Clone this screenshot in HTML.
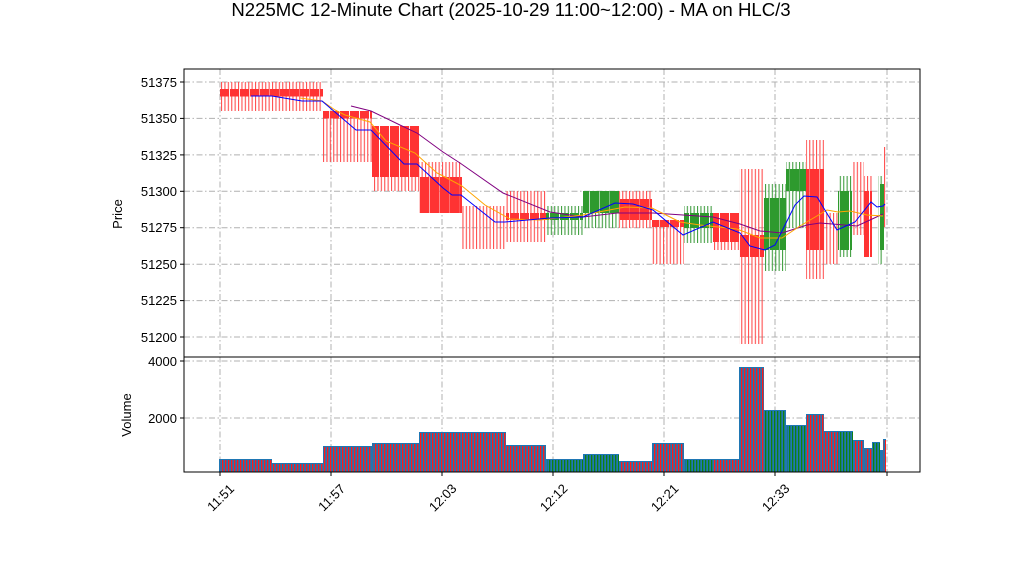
<!DOCTYPE html>
<html><head><meta charset="utf-8"><style>
body{margin:0;background:#fff}
svg text{font-family:"Liberation Sans","DejaVu Sans",sans-serif;fill:#000}
</style></head><body>
<svg width="1022" height="575" viewBox="0 0 1022 575" xmlns="http://www.w3.org/2000/svg">
<defs>
<pattern id="wr" width="3.4" height="10" patternUnits="userSpaceOnUse"><rect x="0" y="0" width="1.1" height="10" fill="#ff5050"/></pattern>
<pattern id="wg" width="3.4" height="10" patternUnits="userSpaceOnUse"><rect x="0" y="0" width="1.1" height="10" fill="#44a044"/></pattern>
<pattern id="br" width="10" height="10" patternUnits="userSpaceOnUse"><rect x="0" y="0" width="9" height="10" fill="#ff3333"/></pattern>
<pattern id="bg" width="10" height="10" patternUnits="userSpaceOnUse"><rect x="0" y="0" width="9" height="10" fill="#2e9a2e"/></pattern>
<pattern id="vr" width="3" height="10" patternUnits="userSpaceOnUse"><rect x="0" y="0" width="1.3" height="10" fill="#ff1a1a"/></pattern>
<pattern id="vg" width="3" height="10" patternUnits="userSpaceOnUse"><rect x="0" y="0" width="1.3" height="10" fill="#108010"/></pattern>
</defs>
<rect width="1022" height="575" fill="#fff"/>
<text x="511" y="16" font-size="18.6" text-anchor="middle">N225MC 12-Minute Chart (2025-10-29 11:00~12:00) - MA on HLC/3</text>

<g stroke="#b0b0b0" stroke-width="1" stroke-dasharray="6,2.5,1.5,2.5" fill="none">
<line x1="184" x2="920" y1="82" y2="82"/><line x1="184" x2="920" y1="118.4" y2="118.4"/>
<line x1="184" x2="920" y1="154.9" y2="154.9"/><line x1="184" x2="920" y1="191.3" y2="191.3"/>
<line x1="184" x2="920" y1="227.7" y2="227.7"/><line x1="184" x2="920" y1="264.2" y2="264.2"/>
<line x1="184" x2="920" y1="300.6" y2="300.6"/><line x1="184" x2="920" y1="337" y2="337"/>
<line x1="184" x2="920" y1="361" y2="361"/><line x1="184" x2="920" y1="418" y2="418"/>
<line x1="220" x2="220" y1="69" y2="472"/><line x1="331" x2="331" y1="69" y2="472"/>
<line x1="442" x2="442" y1="69" y2="472"/><line x1="553" x2="553" y1="69" y2="472"/>
<line x1="664" x2="664" y1="69" y2="472"/><line x1="775" x2="775" y1="69" y2="472"/>
<line x1="887" x2="887" y1="69" y2="472"/>
</g>

<g>
<rect x="219" y="82" width="104" height="29" fill="url(#wr)"/>
<rect x="323" y="111" width="49" height="51" fill="url(#wr)"/>
<rect x="372" y="126" width="47" height="65" fill="url(#wr)"/>
<rect x="419" y="162" width="43" height="51" fill="url(#wr)"/>
<rect x="462" y="206" width="44" height="43" fill="url(#wr)"/>
<rect x="506" y="191" width="40" height="51" fill="url(#wr)"/>
<rect x="546" y="206" width="37" height="29" fill="url(#wg)"/>
<rect x="583" y="191" width="36" height="37" fill="url(#wg)"/>
<rect x="619" y="191" width="33" height="37" fill="url(#wr)"/>
<rect x="652" y="220" width="32" height="44" fill="url(#wr)"/>
<rect x="684" y="206" width="29" height="37" fill="url(#wg)"/>
<rect x="713" y="213" width="26" height="37" fill="url(#wr)"/>
<rect x="739" y="169" width="25" height="175" fill="url(#wr)"/>
<rect x="764" y="184" width="22" height="87" fill="url(#wg)"/>
<rect x="786" y="162" width="20" height="66" fill="url(#wg)"/>
<rect x="806" y="140" width="18" height="139" fill="url(#wr)"/>
<rect x="824" y="213" width="14" height="51" fill="url(#wr)"/>
<rect x="838" y="176" width="14" height="81" fill="url(#wg)"/>
<rect x="852" y="162" width="12" height="73" fill="url(#wr)"/>
<rect x="864" y="176" width="8" height="81" fill="url(#wr)"/>
<rect x="878" y="176" width="5" height="88" fill="url(#wg)"/>
<rect x="883" y="147" width="3" height="80" fill="url(#wr)"/>
</g>
<g>
<rect x="219" y="89" width="104" height="7.5" fill="url(#br)"/>
<rect x="323" y="111" width="49" height="7.5" fill="url(#br)"/>
<rect x="372" y="126" width="47" height="51" fill="url(#br)"/>
<rect x="419" y="177" width="43" height="36" fill="url(#br)"/>
<rect x="506" y="213" width="40" height="7" fill="url(#br)"/>
<rect x="546" y="213" width="37" height="7" fill="url(#bg)"/>
<rect x="583" y="191" width="36" height="22" fill="url(#bg)"/>
<rect x="619" y="199" width="33" height="21" fill="url(#br)"/>
<rect x="652" y="220" width="32" height="7" fill="url(#br)"/>
<rect x="684" y="213" width="29" height="15" fill="url(#bg)"/>
<rect x="713" y="213" width="26" height="29" fill="url(#br)"/>
<rect x="739" y="235" width="25" height="22" fill="url(#br)"/>
<rect x="764" y="198" width="22" height="52" fill="url(#bg)"/>
<rect x="786" y="169" width="20" height="22" fill="url(#bg)"/>
<rect x="806" y="169" width="18" height="81" fill="url(#br)"/>
<rect x="838" y="191" width="14" height="59" fill="url(#bg)"/>
<rect x="864" y="191" width="8" height="66" fill="url(#br)"/>
<rect x="880" y="184" width="4" height="66" fill="url(#bg)"/>
</g>
<polyline fill="none" stroke="#800080" stroke-width="1" points="351,106 371,111 402,126 417,133 443,152 460,163 503,193 550,212 583,217 617,213 653,213 713,217 740,224 760,231 782,233 807,225 820,223 857,226 883,214"/>
<polyline fill="none" stroke="#ffa500" stroke-width="1" points="300,98 322,101 335,110 345,115 370,122 386,141 415,153 437,173 443,176 462,186 485,205 510,219 540,220 583,215 625,207 652,208 680,222 700,225 737,229 760,238 782,238 800,226 827,210 838,212 850,211 867,215 883,216"/>
<polyline fill="none" stroke="#0000ff" stroke-width="1" points="251,96 272,96 302,101 322,101 356,130 371,130 404,164 417,164 443,188 452,195 461,195 495,222 505,222 550,218 583,217 615,203 633,204 653,210 683,235 713,222 740,233 750,246 765,250 775,245 790,215 795,205 804,196 817,197 837,230 855,222 871,202 877,207 883,206 885,204"/>

<g fill="#1f77b4">
<rect x="219" y="459" width="53" height="13"/><rect x="272" y="463" width="51" height="9"/>
<rect x="323" y="446" width="49" height="26"/><rect x="372" y="443" width="47" height="29"/>
<rect x="419" y="432" width="87" height="40"/><rect x="506" y="445" width="40" height="27"/>
<rect x="546" y="459" width="37" height="13"/><rect x="583" y="454" width="36" height="18"/>
<rect x="619" y="461" width="33" height="11"/><rect x="652" y="443" width="32" height="29"/>
<rect x="684" y="459" width="55" height="13"/><rect x="739" y="367" width="25" height="105"/>
<rect x="764" y="410" width="22" height="62"/><rect x="786" y="425" width="20" height="47"/>
<rect x="806" y="414" width="18" height="58"/><rect x="824" y="431" width="29" height="41"/>
<rect x="853" y="440" width="11" height="32"/><rect x="864" y="448" width="8" height="24"/>
<rect x="872" y="442" width="8" height="30"/><rect x="880" y="450" width="3" height="22"/>
<rect x="883" y="439" width="3" height="33"/>
</g>
<g>
<rect x="220" y="460" width="52" height="12" fill="url(#vr)"/>
<rect x="273" y="464" width="50" height="8" fill="url(#vr)"/>
<rect x="324" y="447" width="48" height="25" fill="url(#vr)"/>
<rect x="373" y="444" width="46" height="28" fill="url(#vr)"/>
<rect x="420" y="433" width="86" height="39" fill="url(#vr)"/>
<rect x="507" y="446" width="39" height="26" fill="url(#vr)"/>
<rect x="547" y="460" width="36" height="12" fill="url(#vg)"/>
<rect x="584" y="455" width="35" height="17" fill="url(#vg)"/>
<rect x="620" y="462" width="32" height="10" fill="url(#vr)"/>
<rect x="653" y="444" width="31" height="28" fill="url(#vr)"/>
<rect x="685" y="460" width="28" height="12" fill="url(#vg)"/>
<rect x="713" y="460" width="26" height="12" fill="url(#vr)"/>
<rect x="740" y="368" width="24" height="104" fill="url(#vr)"/>
<rect x="765" y="411" width="21" height="61" fill="url(#vg)"/>
<rect x="787" y="426" width="19" height="46" fill="url(#vg)"/>
<rect x="807" y="415" width="17" height="57" fill="url(#vr)"/>
<rect x="825" y="432" width="13" height="40" fill="url(#vr)"/>
<rect x="838" y="432" width="15" height="40" fill="url(#vg)"/>
<rect x="854" y="441" width="10" height="31" fill="url(#vr)"/>
<rect x="865" y="449" width="7" height="23" fill="url(#vr)"/>
<rect x="873" y="443" width="7" height="29" fill="url(#vg)"/>
<rect x="883" y="440" width="3" height="32" fill="url(#vr)"/>
</g>

<rect x="184" y="69" width="736" height="288" fill="none" stroke="#000" stroke-width="1"/>
<rect x="184" y="357" width="736" height="115" fill="none" stroke="#000" stroke-width="1"/>
<g stroke="#000" stroke-width="1">
<line x1="180" x2="184" y1="82" y2="82"/><line x1="180" x2="184" y1="118.4" y2="118.4"/>
<line x1="180" x2="184" y1="154.9" y2="154.9"/><line x1="180" x2="184" y1="191.3" y2="191.3"/>
<line x1="180" x2="184" y1="227.7" y2="227.7"/><line x1="180" x2="184" y1="264.2" y2="264.2"/>
<line x1="180" x2="184" y1="300.6" y2="300.6"/><line x1="180" x2="184" y1="337" y2="337"/>
<line x1="180" x2="184" y1="361" y2="361"/><line x1="180" x2="184" y1="418" y2="418"/>
<line x1="220" x2="220" y1="472" y2="476"/><line x1="331" x2="331" y1="472" y2="476"/>
<line x1="442" x2="442" y1="472" y2="476"/><line x1="553" x2="553" y1="472" y2="476"/>
<line x1="664" x2="664" y1="472" y2="476"/><line x1="775" x2="775" y1="472" y2="476"/>
<line x1="887" x2="887" y1="472" y2="476"/>
</g>
<g font-size="13" text-anchor="end">
<text x="177" y="87">51375</text><text x="177" y="123">51350</text>
<text x="177" y="160">51325</text><text x="177" y="196">51300</text>
<text x="177" y="232">51275</text><text x="177" y="269">51250</text>
<text x="177" y="305">51225</text><text x="177" y="342">51200</text>
<text x="177" y="366">4000</text><text x="177" y="423">2000</text>
</g>
<g font-size="13" text-anchor="middle">
<text transform="translate(221,498) rotate(-45)" dy="4">11:51</text>
<text transform="translate(332,498) rotate(-45)" dy="4">11:57</text>
<text transform="translate(443,498) rotate(-45)" dy="4">12:03</text>
<text transform="translate(554,498) rotate(-45)" dy="4">12:12</text>
<text transform="translate(665,498) rotate(-45)" dy="4">12:21</text>
<text transform="translate(776,498) rotate(-45)" dy="4">12:33</text>
</g>
<text transform="translate(122,214) rotate(-90)" font-size="13" text-anchor="middle">Price</text>
<text transform="translate(131,415) rotate(-90)" font-size="13" text-anchor="middle">Volume</text>
</svg>
</body></html>
